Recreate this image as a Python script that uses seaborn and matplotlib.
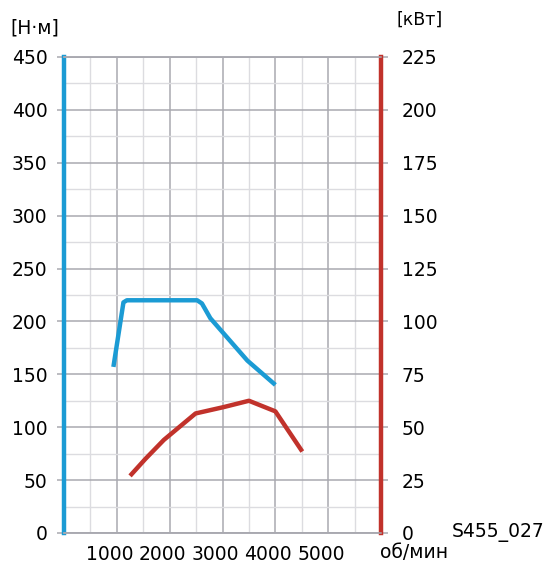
import pandas as pd
import matplotlib
matplotlib.use("Agg")
import matplotlib.pyplot as plt
import matplotlib.transforms as mtransforms
import seaborn as sns
from matplotlib.ticker import MultipleLocator

# torque curve (left axis, Н·м)
torque_rpm = [935, 1125, 1190, 2520, 2610, 2770, 3470, 4000]
torque_nm = [157, 218, 220, 220, 217, 203, 163, 140]

# power curve (right axis, кВт)
power_rpm = [1250, 1540, 1890, 2490, 3020, 3500, 4000, 4510]
power_kw = [27, 35, 44, 56.5, 59.5, 62.5, 57.5, 38.5]

left_ticks = [0, 50, 100, 150, 200, 250, 300, 350, 400, 450]
right_ticks = [0, 25, 50, 75, 100, 125, 150, 175, 200, 225]
x_ticks = [1000, 2000, 3000, 4000, 5000]

blue = "#1b9bd4"
red = "#c1322b"
major_grey = "#a9a9b0"
minor_grey = "#dcdce0"

sns.set_style("white")
plt.rcParams["font.family"] = ["DejaVu Sans"]
plt.rcParams["text.color"] = "black"
plt.rcParams["xtick.color"] = "black"
plt.rcParams["ytick.color"] = "black"

torque = pd.DataFrame({"rpm": torque_rpm, "val": torque_nm})
power = pd.DataFrame({"rpm": power_rpm, "val": power_kw})

fig = plt.figure(figsize=(5.48, 5.63), dpi=100)
ax = fig.add_axes([0.1168, 0.0533, 0.5785, 0.8455])
ax2 = ax.twinx()

ax.set_xlim(0, 6000)
ax.set_ylim(0, 450)
ax2.set_ylim(0, 225)

ax.xaxis.set_major_locator(MultipleLocator(1000))
ax.xaxis.set_minor_locator(MultipleLocator(500))
ax.yaxis.set_major_locator(MultipleLocator(50))
ax.yaxis.set_minor_locator(MultipleLocator(25))
ax.grid(which="major", color=major_grey, linewidth=1.1)
ax.grid(which="minor", color=minor_grey, linewidth=1.0)
ax.set_axisbelow(True)

sns.lineplot(data=torque, x="rpm", y="val", ax=ax, color=blue, linewidth=3.2,
             solid_capstyle="butt", solid_joinstyle="round")
sns.lineplot(data=power, x="rpm", y="val", ax=ax2, color=red, linewidth=3.2,
             solid_capstyle="butt", solid_joinstyle="round")

ax.set_xlabel("")
ax.set_ylabel("")
ax2.set_ylabel("")

fs = 13.5
ax.set_yticks(left_ticks)
ax.set_yticklabels([str(v) for v in left_ticks], fontsize=fs)
ax2.set_yticks(right_ticks)
ax2.set_yticklabels([str(v) for v in right_ticks], fontsize=fs)
ax.set_xticks(x_ticks)
ax.set_xticklabels([str(v) for v in x_ticks], fontsize=fs)

ax.tick_params(axis="y", which="major", length=5, color=major_grey, width=1.1, pad=7,
               left=True)
ax.tick_params(axis="y", which="minor", length=0)
ax.tick_params(axis="x", which="both", length=0, pad=9)
ax2.tick_params(axis="y", which="major", length=5, color=major_grey, width=1.1, pad=10,
                right=True)

# x labels in the original sit a little left of their grid lines
shift = mtransforms.ScaledTranslation(-7 / 100, 0, fig.dpi_scale_trans)
for lab in ax.get_xticklabels():
    lab.set_transform(lab.get_transform() + shift)

for a in (ax, ax2):
    a.spines["top"].set_color(major_grey)
    a.spines["bottom"].set_color(major_grey)
    a.spines["top"].set_linewidth(1.1)
    a.spines["bottom"].set_linewidth(1.1)
ax.spines["left"].set_color(blue)
ax.spines["left"].set_linewidth(3.2)
ax.spines["right"].set_visible(False)
ax2.spines["left"].set_visible(False)
ax2.spines["right"].set_color(red)
ax2.spines["right"].set_linewidth(3.2)

fig.text(10 / 548, 1 - 28 / 563, "[Н·м]", fontsize=fs, va="center", ha="left")
fig.text(397 / 548, 1 - 20 / 563, "[кВт]", fontsize=12.5, va="center", ha="left")
fig.text(452 / 548, 1 - 533 / 563, "S455_027", fontsize=fs, va="center", ha="left")
fig.text(380 / 548, 1 - 553 / 563, "об/мин", fontsize=fs, va="center", ha="left")

fig.savefig("out.png", dpi=100)
